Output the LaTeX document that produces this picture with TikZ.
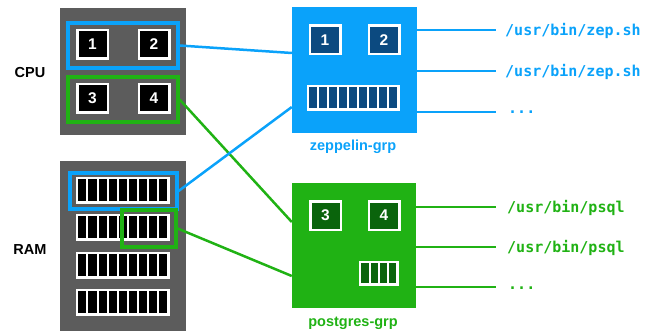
\documentclass[tikz,border=0pt]{standalone}
\usepackage{fontspec}
\setmainfont{Liberation Sans}
\newfontfamily\pathfont{DejaVu Sans Mono}
\usetikzlibrary{positioning, calc}
\definecolor{boxgray}{RGB}{92, 92, 92}
\definecolor{zepblue}{RGB}{10, 162, 250}
\definecolor{zepdark}{RGB}{12, 74, 128}
\definecolor{pggreen}{RGB}{32, 178, 20}
\definecolor{pgdark}{RGB}{10, 100, 12}

\begin{document}
\begin{tikzpicture}[x=1pt, y=-1pt,
  hw/.style={rectangle, fill=boxgray, inner sep=0pt},
  core/.style={rectangle, fill=black, draw=white, line width=2.5pt,
    inner sep=0pt, minimum width=30.5pt, minimum height=28.5pt,
    text=white, font=\fontsize{15.5pt}{17pt}\selectfont\bfseries},
  strip/.style={rectangle, fill=white, inner sep=0pt},
  hl/.style={rectangle, line width=3.2pt, inner sep=0pt},
  grp/.style={rectangle, inner sep=0pt},
  tag/.style={font=\fontsize{14.5pt}{16pt}\selectfont\bfseries},
  bin/.style={font=\pathfont\fontsize{15pt}{17pt}\selectfont\bfseries,
    inner sep=0pt, text height=13pt, text depth=2pt},
  zline/.style={zepblue, line width=2.5pt},
  pline/.style={pggreen, line width=2.5pt}
]
\useasboundingbox (0,0) rectangle (652,331);

% hardware side
\node[tag] at (30,73) (cpulbl) {CPU};
\node[tag] at (30,250) (ramlbl) {RAM};
\node[hw, minimum width=126pt, minimum height=127pt] at (123,71.5) (cpu) {};
\node[hw, minimum width=126pt, minimum height=170pt] at (123,246) (ram) {};

\node[core] at (92.5,44.5) (c1) {1};
\node[core] at (154,44.5)  (c2) {2};
\node[core] at (92.5,98.5) (c3) {3};
\node[core] at (154,98.5)  (c4) {4};

\foreach \y [count=\k] in {190.5,227.5,265.5,302.5} {
  \node[strip, minimum width=94pt, minimum height=27pt] at (123,\y) (row\k) {};
  \foreach \i in {0,...,8}
    \fill[black] ($(row\k.north west)+(2.5+\i*10.11,2.5)$) rectangle +(8.11,22);
}

\node[hl, draw=zepblue, minimum width=110pt, minimum height=45pt] at (123,45.5) (cpuz) {};
\node[hl, draw=pggreen, minimum width=110pt, minimum height=45pt] at (123,99.5) (cpup) {};
\node[hl, draw=zepblue, minimum width=107pt, minimum height=36pt] at (123.5,191) (ramz) {};
\node[hl, draw=pggreen, minimum width=54pt, minimum height=37pt] at (149,228.5) (ramp) {};

% group boxes
\node[grp, fill=zepblue, minimum width=125pt, minimum height=126pt] at (354.5,70) (zep) {};
\node[grp, fill=pggreen, minimum width=124pt, minimum height=125pt] at (354,245.5) (pg) {};

\draw[zline] (cpuz.east) -- ($(zep.west)+(0,-17)$);
\draw[pline] (cpup.east) -- ($(pg.west)+(0,-23.5)$);
\draw[zline] (ramz.east) -- ($(zep.west)+(0,37)$);
\draw[pline] (ramp.east) -- ($(pg.west)+(0,30.5)$);

\node[core, fill=zepdark] at (325,40) (z1) {1};
\node[core, fill=zepdark] at (384,40) (z2) {2};
\node[strip, minimum width=93pt, minimum height=26pt] at (353.5,98) (zs) {};
\foreach \i in {0,...,8}
  \fill[zepdark] ($(zs.north west)+(2.5+\i*10,2.5)$) rectangle +(8,21);
\node[tag, text=zepblue] at (353,147) (zeplbl) {zeppelin-grp};

\node[core, fill=pgdark] at (325.5,215.5) (p3) {3};
\node[core, fill=pgdark] at (384,215.5)   (p4) {4};
\node[strip, minimum width=40pt, minimum height=25pt] at (379,273.5) (ps) {};
\foreach \i in {0,...,3}
  \fill[pgdark] ($(ps.north west)+(2.5+\i*9.25,2.5)$) rectangle +(7.25,20);
\node[tag, text=pggreen] at (353,323) (pglbl) {postgres-grp};

% processes
\coordinate (zl1) at (496,30);
\coordinate (zl2) at (496,71);
\coordinate (zl3) at (496,112);
\coordinate (pl1) at (496,207);
\coordinate (pl2) at (496,247);
\coordinate (pl3) at (496,287);
\draw[zline] (zep.east |- zl1) -- (zl1);
\draw[zline] (zep.east |- zl2) -- (zl2);
\draw[zline] (zep.east |- zl3) -- (zl3);
\draw[pline] (pg.east |- pl1) -- (pl1);
\draw[pline] (pg.east |- pl2) -- (pl2);
\draw[pline] (pg.east |- pl3) -- (pl3);
\node[bin, text=zepblue, right=9pt of zl1] (zt1) {/usr/bin/zep.sh};
\node[bin, text=zepblue, right=9pt of zl2] (zt2) {/usr/bin/zep.sh};
\node[bin, text=zepblue, right=12pt of zl3, yshift=3.5pt] (zt3) {...};
\node[bin, text=pggreen, right=11pt of pl1] (pt1) {/usr/bin/psql};
\node[bin, text=pggreen, right=11pt of pl2] (pt2) {/usr/bin/psql};
\node[bin, text=pggreen, right=12pt of pl3, yshift=3.5pt] (pt3) {...};
\end{tikzpicture}
\end{document}
